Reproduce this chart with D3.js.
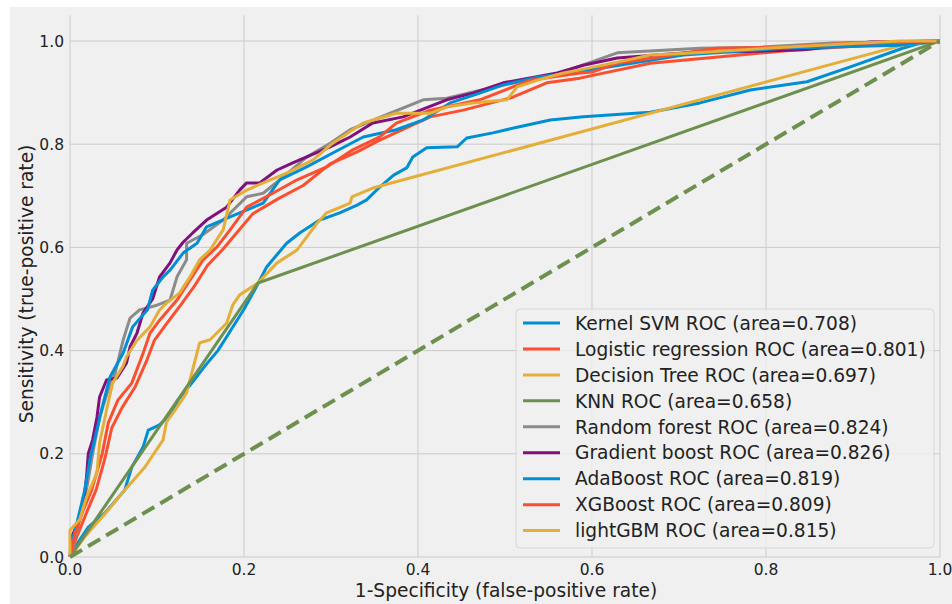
<!DOCTYPE html>
<html>
<head>
<meta charset="utf-8">
<script src="https://cdn.jsdelivr.net/npm/d3@7"></script>
<style>
  body { margin: 0; background: #ffffff; }
  svg { display: block; font-family: "DejaVu Sans", sans-serif; }
</style>
</head>
<body>
<svg width="952" height="604"></svg>
<script>
// ROC points [fpr, tpr]
var kernelSvm = [[0,0],[0.01,0.03],[0.021,0.058],[0.04,0.085],[0.063,0.13],[0.071,0.174],[0.084,0.213],[0.09,0.246],[0.103,0.256],[0.118,0.281],[0.124,0.304],[0.14,0.337],[0.155,0.37],[0.17,0.40],[0.185,0.44],[0.20,0.48],[0.213,0.52],[0.226,0.562],[0.249,0.608],[0.264,0.628],[0.287,0.653],[0.31,0.667],[0.33,0.682],[0.341,0.692],[0.356,0.717],[0.372,0.74],[0.387,0.754],[0.394,0.775],[0.41,0.793],[0.445,0.795],[0.456,0.812],[0.486,0.822],[0.514,0.833],[0.552,0.847],[0.59,0.853],[0.667,0.862],[0.724,0.88],[0.782,0.905],[0.847,0.921],[0.897,0.95],[0.957,0.986],[0.974,0.994],[1,1]]
var logistic = [[0,0],[0.008,0.04],[0.02,0.09],[0.03,0.13],[0.04,0.19],[0.048,0.25],[0.06,0.29],[0.075,0.33],[0.088,0.38],[0.097,0.42],[0.11,0.45],[0.128,0.49],[0.143,0.525],[0.158,0.565],[0.175,0.595],[0.19,0.625],[0.21,0.665],[0.24,0.695],[0.268,0.72],[0.299,0.762],[0.33,0.785],[0.356,0.808],[0.414,0.853],[0.452,0.866],[0.509,0.891],[0.548,0.919],[0.586,0.928],[0.667,0.957],[0.836,0.983],[0.98,0.998],[1,1]]
var decisionTree = [[0,0],[0.017,0.039],[0.044,0.091],[0.063,0.13],[0.086,0.174],[0.107,0.227],[0.111,0.262],[0.121,0.285],[0.134,0.318],[0.149,0.415],[0.161,0.421],[0.18,0.453],[0.187,0.488],[0.195,0.508],[0.216,0.531],[0.238,0.57],[0.261,0.595],[0.272,0.62],[0.284,0.647],[0.295,0.667],[0.322,0.686],[0.324,0.698],[0.348,0.715],[0.957,0.992],[1,1]]
var knn = [[0,0],[0.216,0.531],[1,1]]
var randomForest = [[0,0],[0.005,0.03],[0.012,0.08],[0.02,0.14],[0.026,0.2],[0.034,0.27],[0.045,0.33],[0.052,0.357],[0.061,0.42],[0.069,0.463],[0.08,0.479],[0.1,0.488],[0.115,0.498],[0.123,0.543],[0.134,0.576],[0.134,0.608],[0.153,0.625],[0.176,0.653],[0.203,0.698],[0.222,0.705],[0.241,0.731],[0.272,0.775],[0.299,0.802],[0.322,0.828],[0.368,0.86],[0.406,0.886],[0.433,0.889],[0.483,0.909],[0.537,0.928],[0.567,0.94],[0.629,0.977],[0.724,0.986],[0.793,0.988],[0.877,0.996],[1,1]]
var gradientBoost = [[0,0],[0.002,0.039],[0.01,0.07],[0.015,0.097],[0.019,0.155],[0.021,0.2],[0.026,0.227],[0.031,0.271],[0.034,0.31],[0.042,0.343],[0.054,0.347],[0.065,0.376],[0.069,0.407],[0.077,0.434],[0.084,0.473],[0.095,0.5],[0.103,0.543],[0.115,0.57],[0.123,0.595],[0.13,0.61],[0.141,0.628],[0.157,0.653],[0.18,0.678],[0.195,0.711],[0.203,0.725],[0.218,0.725],[0.238,0.75],[0.256,0.764],[0.299,0.795],[0.322,0.814],[0.348,0.841],[0.383,0.853],[0.433,0.886],[0.463,0.899],[0.498,0.919],[0.56,0.938],[0.59,0.953],[0.629,0.967],[0.724,0.979],[0.77,0.979],[0.843,0.983],[0.92,0.998],[1,1]]
var adaBoost = [[0,0],[0.004,0.04],[0.01,0.08],[0.017,0.13],[0.023,0.19],[0.03,0.24],[0.037,0.29],[0.046,0.349],[0.061,0.395],[0.072,0.446],[0.089,0.479],[0.095,0.517],[0.107,0.543],[0.115,0.556],[0.13,0.589],[0.146,0.608],[0.157,0.64],[0.184,0.659],[0.222,0.686],[0.241,0.731],[0.272,0.756],[0.302,0.783],[0.337,0.814],[0.375,0.828],[0.406,0.847],[0.437,0.88],[0.471,0.899],[0.498,0.915],[0.537,0.93],[0.583,0.94],[0.705,0.973],[0.82,0.986],[0.954,0.992],[1,1]]
var xgBoost = [[0,0],[0.006,0.047],[0.015,0.09],[0.025,0.13],[0.037,0.2],[0.044,0.26],[0.055,0.304],[0.071,0.337],[0.084,0.395],[0.092,0.434],[0.103,0.459],[0.123,0.498],[0.138,0.537],[0.153,0.576],[0.169,0.601],[0.184,0.634],[0.203,0.678],[0.233,0.705],[0.261,0.731],[0.295,0.756],[0.325,0.789],[0.356,0.814],[0.375,0.841],[0.414,0.866],[0.471,0.886],[0.509,0.911],[0.529,0.924],[0.586,0.938],[0.601,0.94],[0.629,0.957],[0.743,0.986],[0.82,0.988],[0.897,0.996],[1,1]]
var lightGbm = [[0,0],[0,0.052],[0.011,0.072],[0.019,0.116],[0.031,0.163],[0.034,0.221],[0.042,0.285],[0.049,0.337],[0.061,0.37],[0.065,0.388],[0.077,0.42],[0.092,0.446],[0.103,0.479],[0.111,0.492],[0.126,0.512],[0.138,0.543],[0.149,0.576],[0.161,0.595],[0.176,0.634],[0.184,0.692],[0.203,0.711],[0.222,0.725],[0.249,0.744],[0.279,0.769],[0.302,0.802],[0.325,0.828],[0.337,0.841],[0.375,0.86],[0.414,0.86],[0.433,0.872],[0.463,0.88],[0.502,0.886],[0.514,0.911],[0.537,0.924],[0.567,0.938],[0.586,0.944],[0.629,0.959],[0.667,0.973],[0.72,0.977],[0.82,0.988],[0.954,1],[1,1]]
var chance = [[0,0],[1,1]]

var modelNames = ["Kernel SVM", "Logistic regression", "Decision Tree", "KNN", "Random forest", "Gradient boost", "AdaBoost", "XGBoost", "lightGBM"]
var modelAreas = ["0.708", "0.801", "0.697", "0.658", "0.824", "0.826", "0.819", "0.809", "0.815"]
var modelCurves = [kernelSvm, logistic, decisionTree, knn, randomForest, gradientBoost, adaBoost, xgBoost, lightGbm]
var tickValues = [0, 0.2, 0.4, 0.6, 0.8, 1.0]

var colors = ["#008fd5", "#fc4f30", "#e5ae38", "#6d904f", "#8b8b8b", "#810f7c"]

var svg = d3.select("svg")

// figure background (fivethirtyeight style)
svg.append("rect")
	.attr("x", 10).attr("y", 7)
	.attr("width", 942).attr("height", 597)
	.attr("fill", "#f0f0f0")

var x = d3.scaleLinear().domain([0, 1]).range([70, 940])
var y = d3.scaleLinear().domain([0, 1.05]).range([557, 557 - 516 * 1.05])

// grid
svg.append("g").selectAll("line")
	.data(tickValues)
	.enter().append("line")
	.attr("x1", d => x(d)).attr("x2", d => x(d))
	.attr("y1", y(1.05)).attr("y2", y(0))
	.attr("stroke", "#cbcbcb").attr("stroke-width", 1)
svg.append("g").selectAll("line")
	.data(tickValues)
	.enter().append("line")
	.attr("x1", x(0)).attr("x2", x(1))
	.attr("y1", d => y(d)).attr("y2", d => y(d))
	.attr("stroke", "#cbcbcb").attr("stroke-width", 1)

// tick labels
svg.append("g").selectAll("text")
	.data(tickValues)
	.enter().append("text")
	.attr("x", d => x(d)).attr("y", 575)
	.attr("text-anchor", "middle")
	.attr("font-size", 15.5).attr("fill", "#222")
	.text(d => d.toFixed(1))
svg.append("g").selectAll("text")
	.data(tickValues)
	.enter().append("text")
	.attr("x", 64).attr("y", d => y(d))
	.attr("dy", "0.36em")
	.attr("text-anchor", "end")
	.attr("font-size", 15.5).attr("fill", "#222")
	.text(d => d.toFixed(1))

// axis labels
svg.append("text")
	.attr("x", 506).attr("y", 597)
	.attr("text-anchor", "middle")
	.attr("font-size", 18.6).attr("fill", "#222")
	.text("1-Specificity (false-positive rate)")
svg.append("text")
	.attr("transform", "translate(33,284) rotate(-90)")
	.attr("text-anchor", "middle")
	.attr("font-size", 18.6).attr("fill", "#222")
	.text("Sensitivity (true-positive rate)")

svg.append("clipPath").attr("id", "plot")
	.append("rect")
	.attr("x", x(0) - 2).attr("y", y(1.05))
	.attr("width", x(1) - x(0) + 2).attr("height", y(0) - y(1.05) + 2)

var line = d3.line()
	.x(d => x(d[0]))
	.y(d => y(d[1]))

var plot = svg.append("g").attr("clip-path", "url(#plot)")

plot.selectAll("path.roc")
	.data(modelCurves)
	.enter().append("path")
	.attr("class", "roc")
	.attr("d", line)
	.attr("fill", "none")
	.attr("stroke", (d, i) => colors[i % colors.length])
	.attr("stroke-width", 3)
	.attr("stroke-linejoin", "round")

plot.append("path")
	.attr("d", line(chance))
	.attr("fill", "none")
	.attr("stroke", colors[9 % colors.length])
	.attr("stroke-width", 4)
	.attr("stroke-dasharray", "14,7")

// legend
var legend = svg.append("g")
legend.append("rect")
	.attr("x", 516).attr("y", 309)
	.attr("width", 418).attr("height", 239)
	.attr("rx", 4)
	.attr("fill", "#f0f0f0").attr("fill-opacity", 0.8)
	.attr("stroke", "#d6d6d6")

var rows = legend.selectAll("g.row")
	.data(modelNames)
	.enter().append("g")
	.attr("class", "row")
	.attr("transform", (d, i) => `translate(0,${323 + i * 25.95})`)
rows.append("line")
	.attr("x1", 523).attr("x2", 560)
	.attr("stroke", (d, i) => colors[i % colors.length])
	.attr("stroke-width", 3)
rows.append("text")
	.attr("x", 575).attr("dy", "0.36em")
	.attr("font-size", 18.6).attr("fill", "#222")
	.text((d, i) => `${d} ROC (area=${modelAreas[i]})`)
</script>
</body>
</html>
